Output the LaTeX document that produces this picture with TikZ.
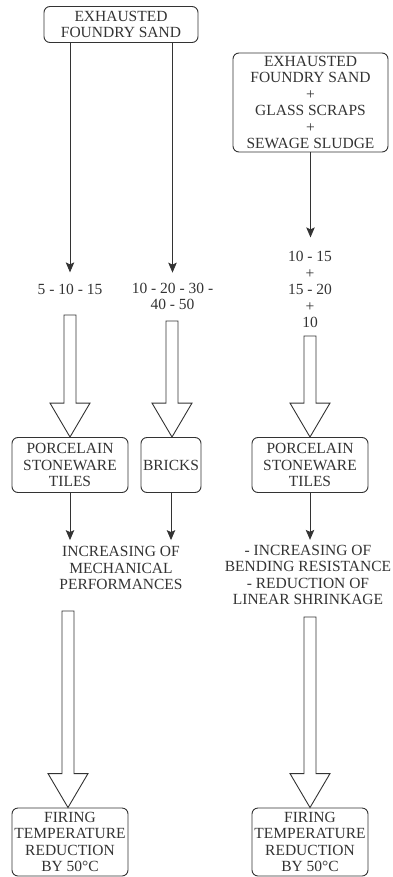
\documentclass[tikz,border=0pt]{standalone}
\usepackage{fontspec}
\setmainfont{Liberation Serif}
\usetikzlibrary{arrows.meta,calc}
\definecolor{inkdrk}{HTML}{333333}
\newcommand{\hollowarrow}[2]{%
	\draw[hollow] let \p1=(#1), \p2=(#2.north) in
		({\x1-6pt},\y1) -- ({\x1+6pt},\y1) -- ({\x1+6pt},{\y2+34pt}) -- ({\x1+20pt},{\y2+34pt})
		-- (\x1,\y2) -- ({\x1-20pt},{\y2+34pt}) -- ({\x1-6pt},{\y2+34pt}) -- cycle;}

\begin{document}
\begin{tikzpicture}[x=1pt, y=-1pt, color=inkdrk,
	every node/.style={font=\fontsize{15.5}{16.5}\selectfont},
	box/.style={draw, rounded corners=6pt, align=center, inner sep=0pt, text depth=0pt, line width=0.9pt},
	lbl/.style={align=center, inner sep=0pt},
	thinarr/.style={line width=0.9pt, -{Stealth[length=10pt, width=8.5pt, inset=2pt]}},
	hollow/.style={line width=0.9pt, line join=miter}]
	\useasboundingbox (0,0) rectangle (392,877);

	\node[box, minimum width=154pt, minimum height=36pt] (src1) at (121,24.5) {EXHAUSTED\\FOUNDRY SAND};
	\node[box, minimum width=155pt, minimum height=99pt] (src2) at (310.5,102.5) {EXHAUSTED\\FOUNDRY SAND\\+\\GLASS SCRAPS\\+\\SEWAGE SLUDGE};

	\node[lbl] (pct1) at (70,289.8) {5 - 10 - 15};
	\node[lbl] (pct2) at (172.5,296.3) {10 - 20 - 30 -\\40 - 50};
	\node[lbl] (pct3) at (310,289.8) {10 - 15\\+\\15 - 20\\+\\10};

	\node[box, minimum width=116pt, minimum height=55pt] (tiles1) at (70,465) {PORCELAIN\\STONEWARE\\TILES};
	\node[box, minimum width=60pt, minimum height=55pt] (bricks) at (171,465) {BRICKS};
	\node[box, minimum width=116pt, minimum height=55pt] (tiles2) at (310,465) {PORCELAIN\\STONEWARE\\TILES};

	\node[lbl] (perf1) at (121,568) {INCREASING OF\\MECHANICAL\\PERFORMANCES};
	\node[lbl] (perf2) at (308,575) {- INCREASING OF\\BENDING RESISTANCE\\- REDUCTION OF\\LINEAR SHRINKAGE};

	\node[box, minimum width=116pt, minimum height=68pt] (fire1) at (70,842) {FIRING\\TEMPERATURE\\REDUCTION\\BY 50°C};
	\node[box, minimum width=116pt, minimum height=68pt] (fire2) at (310,842) {FIRING\\TEMPERATURE\\REDUCTION\\BY 50°C};

	% thin arrows
	\draw[thinarr, shorten >=12pt] (src1.south -| pct1) -- (pct1.north);
	\draw[thinarr, shorten >=10pt] (src1.south -| pct2) -- (pct2.north);
	\draw[thinarr, shorten >=14pt] (src2.south) -- (src2.south |- pct3.north);
	\draw[thinarr, shorten >=6pt] (tiles1.south) -- (tiles1.south |- perf1.north);
	\draw[thinarr, shorten >=6pt] (bricks.south) -- (bricks.south |- perf1.north);
	\draw[thinarr, shorten >=5pt] (tiles2.south) -- (tiles2.south |- perf2.north);

	% hollow arrows
	\coordinate (s1) at (70,315);
	\coordinate (s2) at (172,321);
	\coordinate (s3) at (310,336);
	\coordinate (s4) at (68,611);
	\coordinate (s5) at (310,617);
	\hollowarrow{s1}{tiles1}
	\hollowarrow{s2}{bricks}
	\hollowarrow{s3}{tiles2}
	\hollowarrow{s4}{fire1}
	\hollowarrow{s5}{fire2}
\end{tikzpicture}
\end{document}
